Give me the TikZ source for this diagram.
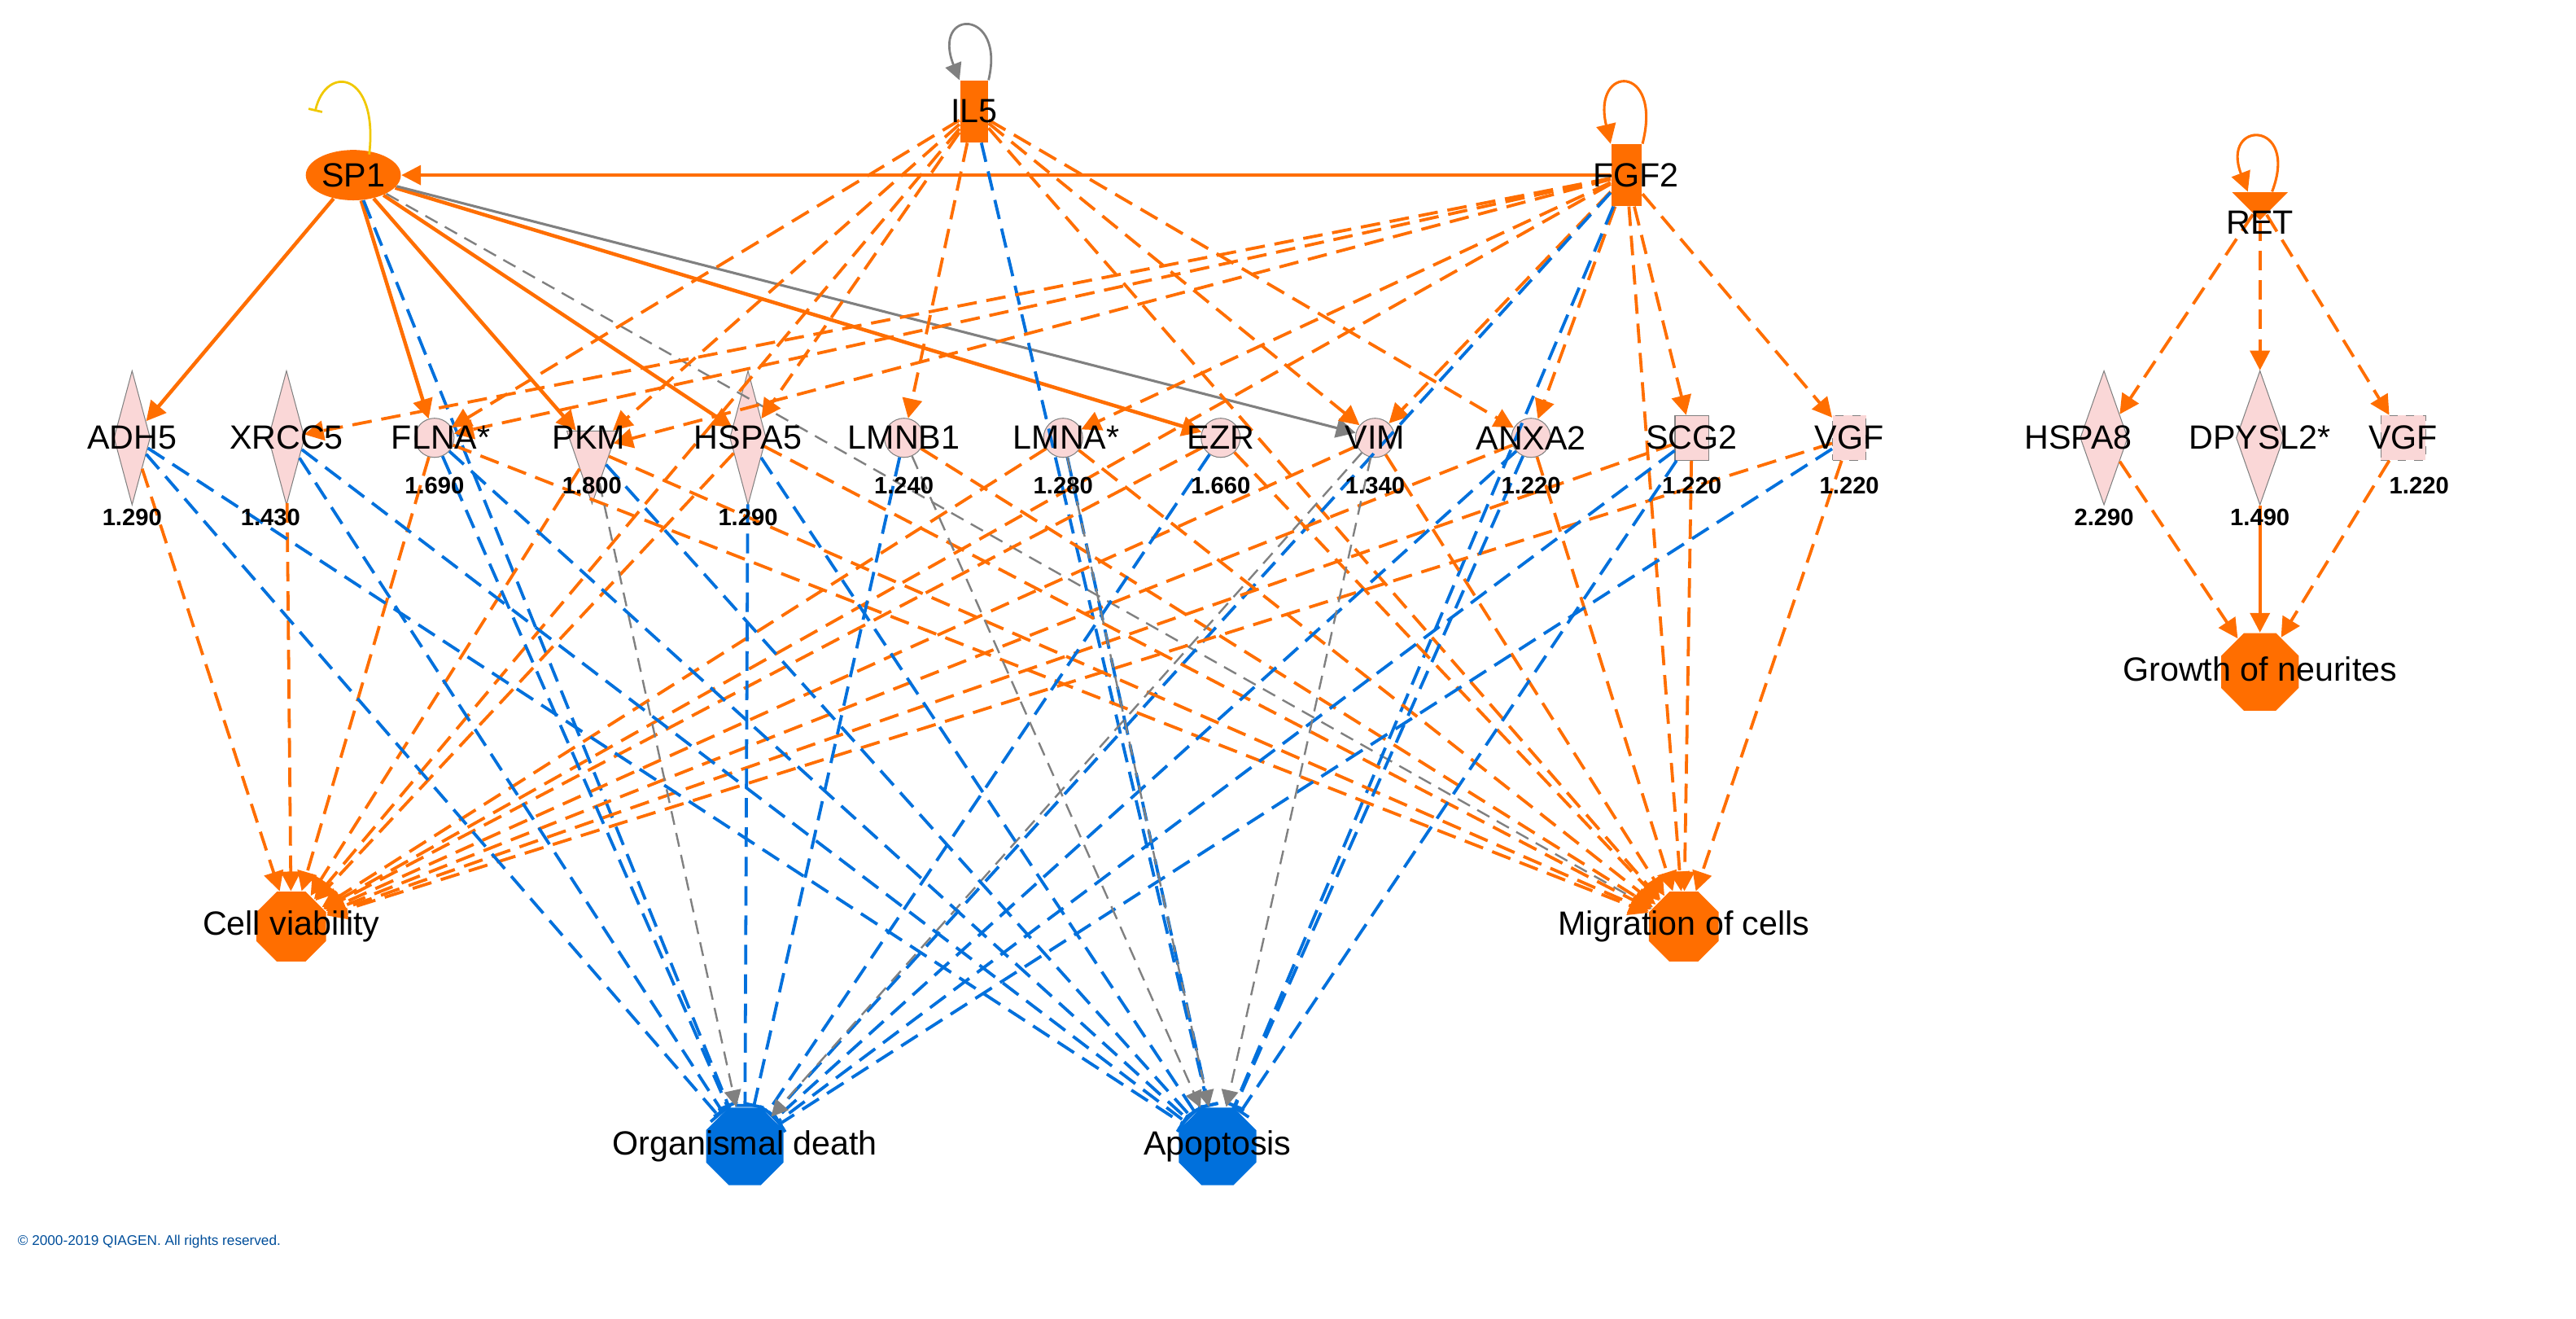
\documentclass[tikz,border=0pt]{standalone}
\usepackage{fontspec}
\setmainfont{Liberation Sans}
\usetikzlibrary{arrows.meta,shapes.geometric}
\definecolor{or}{RGB}{255,110,0}
\definecolor{bl}{RGB}{0,112,220}
\definecolor{gr}{RGB}{128,128,128}
\definecolor{pk}{RGB}{250,215,215}
\definecolor{ye}{RGB}{240,200,0}
\begin{document}
\begin{tikzpicture}[x=0.02cm,y=-0.02cm,
 lab/.style={font=\fontsize{12}{12}\selectfont},
 num/.style={font=\bfseries\fontsize{8.5}{9}\selectfont},
 dia/.style={diamond,fill=pk,draw=gr,line width=0.3pt,inner sep=0pt,minimum width=13pt,minimum height=48pt},
 circ/.style={circle,fill=pk,draw=gr,line width=0.3pt,inner sep=0pt,minimum size=14pt},
 sq/.style={rectangle,fill=pk,draw=gr,line width=0.3pt,inner sep=0pt,minimum width=12pt,minimum height=16pt},
 oct/.style={regular polygon,regular polygon sides=8,inner sep=0pt,minimum size=27pt},
 act/.style={-{Triangle[length=7pt,width=7pt]},line width=1.1pt},
 ds/.style={dash pattern=on 7pt off 3.5pt},
 oa/.style={act,draw=or,ds},
 os/.style={act,draw=or},
 ba/.style={-{Bar[width=7pt]},draw=bl,line width=1.1pt,ds},
 ga/.style={-{Triangle[length=6pt,width=6pt]},draw=gr,line width=0.7pt,dash pattern=on 5pt off 3pt},
]
\useasboundingbox (0,0) rectangle (1618.6,828);
% shapes
\node[rectangle,fill=or,inner sep=0pt,minimum width=10pt,minimum height=22pt] (IL5) at (612,70) {};
\node[ellipse,fill=or,inner sep=0pt,minimum width=34pt,minimum height=18pt] (SP1) at (222,110) {};
\node[rectangle,fill=or,inner sep=0pt,minimum width=11pt,minimum height=22pt] (FGF2) at (1022,110) {};
\node[isosceles triangle,shape border rotate=-90,fill=or,inner sep=0pt,minimum width=20pt,minimum height=10pt,isosceles triangle stretches] (RET) at (1420,128) {};
\node[dia] (ADH5) at (83,275) {};
\node[dia] (XRCC5) at (180,275) {};
\node[circ] (FLNA) at (273,275) {};
\node[isosceles triangle,shape border rotate=-90,fill=pk,draw=gr,line width=0.3pt,inner sep=0pt,minimum width=18pt,minimum height=26pt,isosceles triangle stretches] (PKM) at (372,282) {};
\node[dia] (HSPA5) at (470,275) {};
\node[circ] (LMNB1) at (568,275) {};
\node[circ] (LMNA) at (668,275) {};
\node[circ] (EZR) at (767,275) {};
\node[circ] (VIM) at (864,275) {};
\node[circ] (ANXA2) at (962,275) {};
\node[sq] (SCG2) at (1063,275) {};
\node[sq,dashed] (VGFa) at (1162,275) {};
\node[dia,minimum width=17pt] (HSPA8) at (1322,275) {};
\node[dia,minimum width=17pt] (DPYSL2) at (1420,275) {};
\node[sq,dashed,minimum width=16pt] (VGFb) at (1510,275) {};
\node[oct,fill=or] (CV) at (183,582) {};
\node[oct,fill=or] (MIG) at (1058,582) {};
\node[oct,fill=bl,minimum size=30pt] (OD) at (468,720) {};
\node[oct,fill=bl,minimum size=30pt] (AP) at (765,720) {};
\node[oct,fill=or,minimum size=30pt] (GN) at (1420,422) {};
% edges SP1
\draw[os] (FGF2) -- (SP1);
\foreach \t in {ADH5,FLNA,PKM,HSPA5,EZR} \draw[os,line width=1.3pt] (SP1) -- (\t);
\draw[act,draw=gr,line width=0.9pt] (SP1) -- (VIM);
\draw[ga] (SP1) -- (MIG);
\draw[ba] (SP1) -- (OD);
% IL5
\foreach \t in {FLNA,PKM,HSPA5,LMNB1,VIM,ANXA2,MIG,CV} \draw[oa] (IL5) -- (\t);
\draw[ba] (IL5) -- (AP);
% FGF2
\foreach \t in {XRCC5,FLNA,PKM,LMNA,VIM,ANXA2,SCG2,VGFa,MIG,CV} \draw[oa] (FGF2) -- (\t);
\draw[ba] (FGF2) -- (AP);
\draw[ba] (FGF2) -- (OD);
% genes -> functions
\foreach \s in {ADH5,XRCC5,FLNA,PKM,HSPA5,LMNA,EZR,VIM,ANXA2,SCG2,VGFa} \draw[oa] (\s) -- (CV);
\foreach \s in {FLNA,PKM,HSPA5,LMNB1,LMNA,EZR,VIM,ANXA2,SCG2,VGFa} \draw[oa] (\s) -- (MIG);
\foreach \s in {ADH5,XRCC5,FLNA,HSPA5,LMNB1,EZR,ANXA2,SCG2,VGFa} \draw[ba] (\s) -- (OD);
\draw[ga] (PKM) -- (OD);
\draw[ga] (VIM) -- (OD);
\foreach \s in {ADH5,XRCC5,FLNA,PKM,HSPA5,LMNA,ANXA2,SCG2} \draw[ba] (\s) -- (AP);
\foreach \s in {LMNB1,VIM,LMNA} \draw[ga] (\s) -- (AP);
% RET network
\foreach \t in {HSPA8,DPYSL2,VGFb} \draw[oa] (RET) -- (\t);
\draw[oa] (HSPA8) -- (GN);
\draw[os] (DPYSL2) -- (GN);
\draw[oa] (VGFb) -- (GN);
% self loops
\draw[-{Bar[width=5pt]},draw=ye,line width=0.8pt] (232,97) .. controls (238,45) and (205,40) .. (198,70);
\draw[-{Triangle[length=6pt,width=6pt]},draw=gr,line width=0.8pt] (IL5.north east) .. controls (632,5) and (585,5) .. (IL5.north west);
\draw[act,draw=or,line width=0.9pt] (FGF2.north east) .. controls (1045,40) and (1000,40) .. (FGF2.north west);
\draw[act,draw=or,line width=0.9pt] (RET.north east) .. controls (1445,75) and (1395,75) .. (RET.north west);
% labels
\node[lab] at (IL5) {IL5};
\node[lab] at (SP1) {SP1};
\node[lab] at (1028,110) {FGF2};
\node[lab] at (1420,140) {RET};
\node[lab] at (83,275) {ADH5};
\node[lab] at (180,275) {XRCC5};
\node[lab] at (277,275) {FLNA*};
\node[lab] at (370,275) {PKM};
\node[lab] at (470,275) {HSPA5};
\node[lab] at (568,275) {LMNB1};
\node[lab] at (670,275) {LMNA*};
\node[lab] at (767,275) {EZR};
\node[lab] at (864,275) {VIM};
\node[lab] at (962,275) {ANXA2};
\node[lab] at (1063,275) {SCG2};
\node[lab] at (1162,275) {VGF};
\node[lab] at (1306,275) {HSPA8};
\node[lab] at (1420,275) {DPYSL2*};
\node[lab] at (1510,275) {VGF};
\node[num] at (83,325) {1.290};
\node[num] at (170,325) {1.430};
\node[num] at (273,305) {1.690};
\node[num] at (372,305) {1.800};
\node[num] at (470,325) {1.290};
\node[num] at (568,305) {1.240};
\node[num] at (668,305) {1.280};
\node[num] at (767,305) {1.660};
\node[num] at (864,305) {1.340};
\node[num] at (962,305) {1.220};
\node[num] at (1063,305) {1.220};
\node[num] at (1162,305) {1.220};
\node[num] at (1322,325) {2.290};
\node[num] at (1420,325) {1.490};
\node[num] at (1520,305) {1.220};
\node[lab] at (183,582) {Cell viability};
\node[lab] at (1058,582) {Migration of cells};
\node[lab] at (468,720) {Organismal death};
\node[lab] at (765,720) {Apoptosis};
\node[lab] at (1420,420) {Growth of neurites};
\node[font=\fontsize{5}{5}\selectfont,text=bl!70!black,anchor=west] at (5,780) {© 2000-2019 QIAGEN. All rights reserved.};
\end{tikzpicture}
\end{document}
